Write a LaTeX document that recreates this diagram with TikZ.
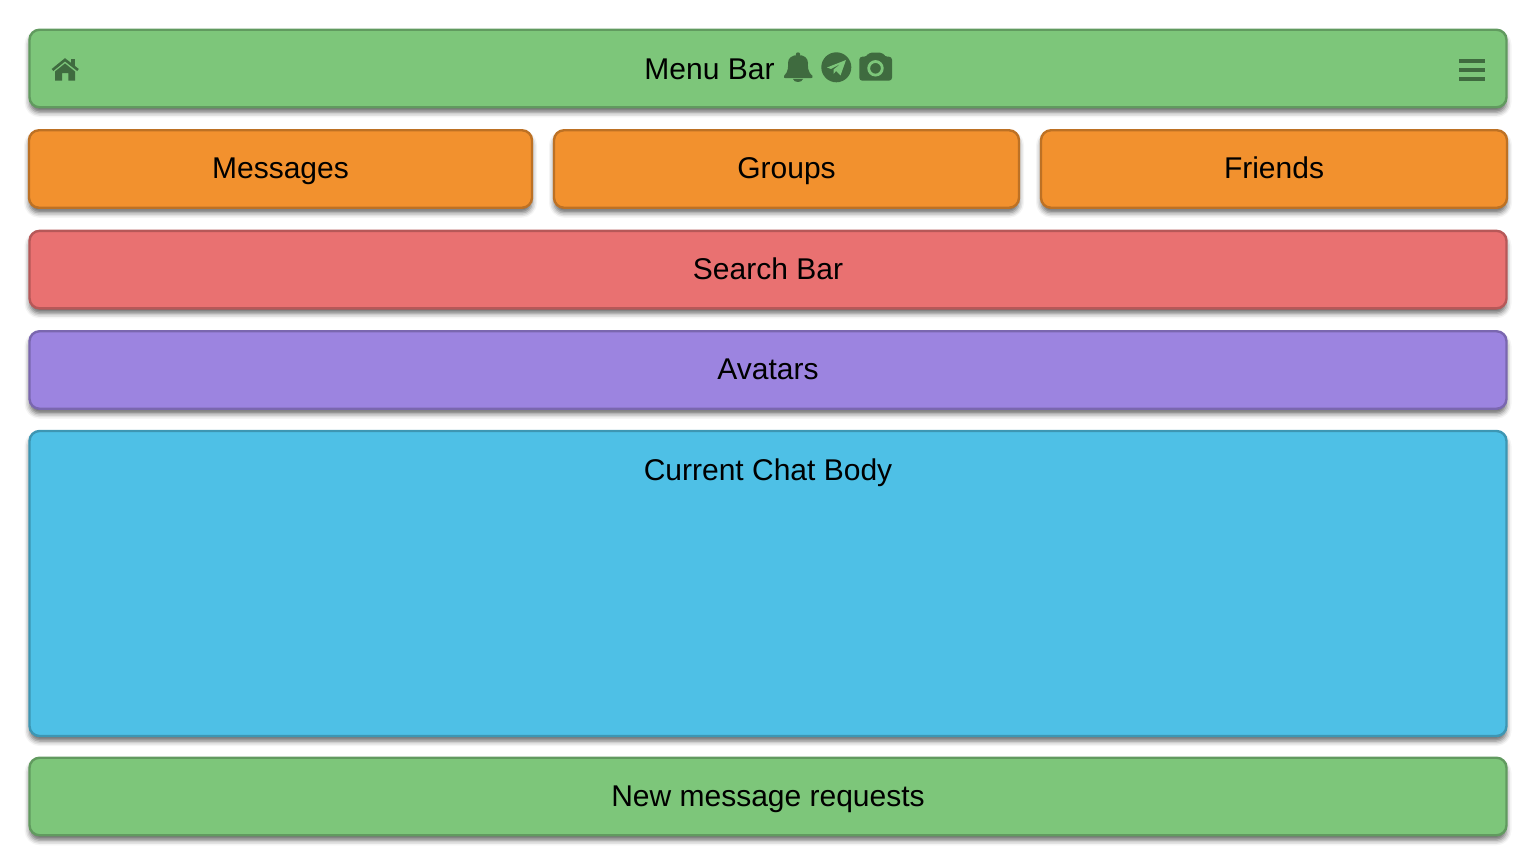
\documentclass[tikz,border=0pt]{standalone}
\usepackage{fontspec}
\setmainfont{Liberation Sans}
\usetikzlibrary{shadows.blur}
\definecolor{barGreen}{HTML}{7DC67A}
\definecolor{tabOrange}{HTML}{F2912E}
\definecolor{searchRed}{HTML}{E97171}
\definecolor{avatarPurple}{HTML}{9C84E0}
\definecolor{bodyBlue}{HTML}{4EC0E6}
\definecolor{iconGreen}{HTML}{3F6B3F}

\begin{document}
\begin{tikzpicture}[x=1pt, y=-1pt,
	panel/.style={draw=#1!78!black, fill=#1, line width=2.4pt, rounded corners=10pt, inner sep=0pt, minimum height=77.5pt, text=black,
		font=\fontsize{30}{36}\selectfont, text height=25pt, text depth=6pt,
		blur shadow={shadow xshift=0pt, shadow yshift=-5pt, shadow blur radius=5pt, shadow opacity=60}},
	label/.style={inner sep=0pt, text=black, font=\fontsize{30}{36}\selectfont, text height=25pt, text depth=6pt},
	icon/.style={fill=iconGreen, draw=none}]
	\useasboundingbox (0,0) rectangle (1536,864);
	% rows of the layout
	\node[panel=barGreen, minimum width=1477pt] (menubar) at (768,68.5) {};
	\node[panel=tabOrange, minimum width=503pt] (messages) at (280.5,169) {Messages};
	\node[panel=tabOrange, minimum width=465pt] (groups) at (786.5,169) {Groups};
	\node[panel=tabOrange, minimum width=466pt] (friends) at (1274,169) {Friends};
	\node[panel=searchRed, minimum width=1477pt] (searchbar) at (768,269.6) {Search Bar};
	\node[panel=avatarPurple, minimum width=1477pt] (avatars) at (768,370) {Avatars};
	\node[panel=bodyBlue, minimum width=1477pt, minimum height=305pt] (chatbody) at (768,583.5) {};
	\node[panel=barGreen, minimum width=1477pt] (newrequests) at (768,796.5) {New message requests};
	\node[label] (menutext) at (709.5,69.7) {Menu Bar};
	\node[label] (chattext) at (768,470.5) {Current Chat Body};
	% home
	\draw[iconGreen, line width=2.6pt, line join=miter] (52.5,70) -- (65,59.8) -- (78,70);
	\fill[iconGreen] (70.5,59.5) rectangle (75,66);
	\fill[icon] (65,63.5) -- (75,71.5) -- (75,80.7) -- (68.3,80.7) -- (68.3,73.2) -- (62,73.2) -- (62,80.7) -- (55,80.7) -- (55,71.5) -- cycle;
	% bell
	\fill[icon] (798,54.5) circle [radius=2.2];
	\fill[icon] (784,76) .. controls (789,71) and (788,66) .. (788,63) .. controls (788,58) and (792,55) .. (798,55) .. controls (804,55) and (808,58) .. (808,63) .. controls (808,66) and (807,71) .. (812.5,76) .. controls (813,77.5) and (812,78.2) .. (811,78.2) -- (785.5,78.2) .. controls (784.5,78.2) and (783.5,77.5) .. (784,76) -- cycle;
	\fill[icon] (793,79) .. controls (794,83) and (802,83) .. (803,79) -- cycle;
	% telegram
	\fill[icon] (836.3,67.3) circle [radius=15];
	\fill[barGreen] (827,67.5) -- (846,60) -- (840.5,75.5) -- (836,71) -- (833.5,74) -- (833.5,69.5) -- (841,63.5) -- (831,69) -- cycle;
	% camera
	\fill[icon, rounded corners=3pt] (859.3,56.7) -- (867,56.7) -- (868.5,52.7) -- (883,52.7) -- (884.5,56.7) -- (892,56.7) -- (892,80.7) -- (859.3,80.7) -- cycle;
	\draw[barGreen, line width=2.8pt] (875.5,68.3) circle [radius=6.8];
	% hamburger
	\draw[iconGreen, line width=4pt] (1459,60.7) -- (1485.3,60.7);
	\draw[iconGreen, line width=4pt] (1459,69.7) -- (1485.3,69.7);
	\draw[iconGreen, line width=4pt] (1459,78.7) -- (1485.3,78.7);
\end{tikzpicture}
\end{document}
